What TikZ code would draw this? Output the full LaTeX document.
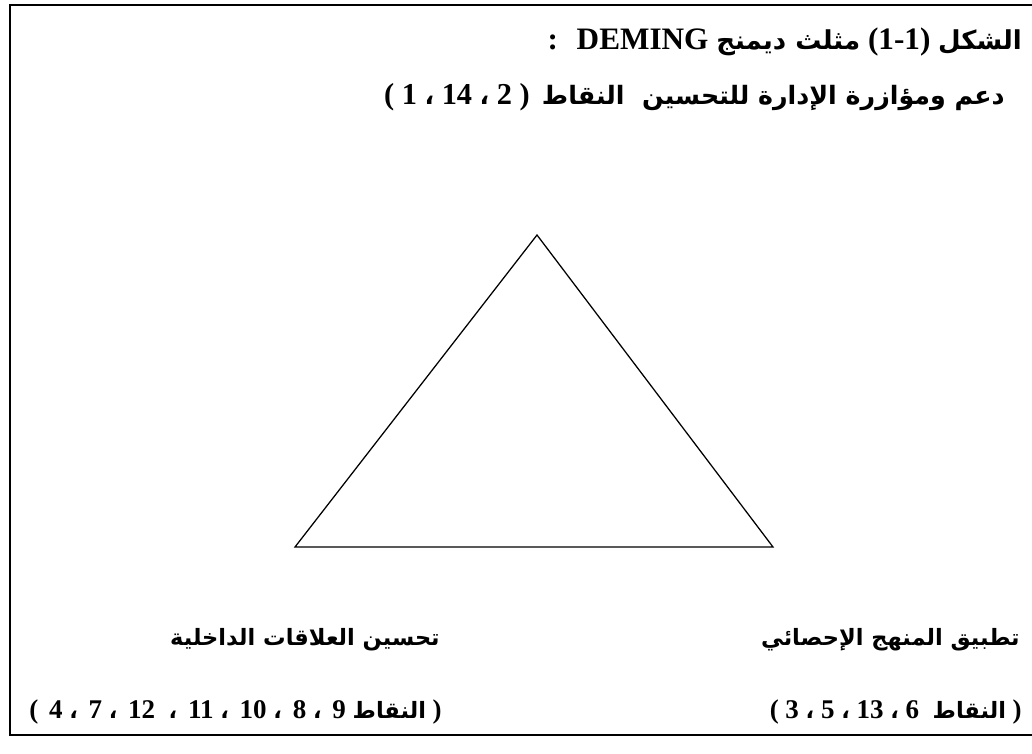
\documentclass[tikz,border=0pt]{standalone}
\usepackage{fontspec}
\setmainfont{Liberation Serif}[Scale=1.2]
\newfontfamily\arabicfont[Script=Arabic]{DejaVu Sans}
\TeXXeTstate=1
\newcommand{\artxt}[1]{{\arabicfont\beginR #1\endR}}
\newcommand{\acomma}{{\arabicfont ،}}
\newcommand{\gap}{\hspace{0.4em}}
\tikzset{
  lbl/.style={inner sep=0pt, font=\bfseries\fontsize{16}{20}\selectfont},
  head/.style={inner sep=0pt, font=\bfseries\fontsize{18.5}{22}\selectfont},
  sub/.style={inner sep=0pt, font=\bfseries\fontsize{18}{22}\selectfont},
  frame/.style={line width=1.8pt},
  tri/.style={line width=0.9pt, line join=miter}
}
\begin{document}
\begin{tikzpicture}[x=0.025cm, y=-0.025cm]
\useasboundingbox (0,0) rectangle (1032,754);
% outer frame
\draw[frame] (1032,5) -- (10,5) -- (10,735) -- (1032,735);
% title lines
\node[head, anchor=east] (title) at (1022,42) {:\hspace{0.6em}DEMING \artxt{مثلث ديمنج} (1-1) \artxt{الشكل}};
\node[sub, anchor=east] (mgmt) at (1005,97) {( 1 \acomma{} 14 \acomma{} 2 )\gap\artxt{دعم ومؤازرة الإدارة للتحسين\ \ النقاط}};
% the triangle
\coordinate (apex) at (537,235);
\coordinate (bl) at (295,547);
\coordinate (br) at (773,547);
\draw[tri] (apex) -- (bl) -- (br) -- cycle;
% corner labels
\node[lbl, anchor=east] (stat) at (1020,640) {\artxt{تطبيق المنهج الإحصائي}};
\node[lbl, anchor=east] (statpts) at (1022,712) {( 3 \acomma{} 5 \acomma{} 13 \acomma{} 6\ \ \artxt{النقاط} )};
\node[lbl, anchor=east] (rel) at (440,640) {\artxt{تحسين العلاقات الداخلية}};
\node[lbl, anchor=east] (relpts) at (442,712) {(\gap4 \acomma{}\gap7 \acomma{}\gap12\ \ \acomma{}\gap11 \acomma{}\gap10 \acomma{}\gap8 \acomma{}\gap9 \artxt{النقاط} )};
\end{tikzpicture}
\end{document}
